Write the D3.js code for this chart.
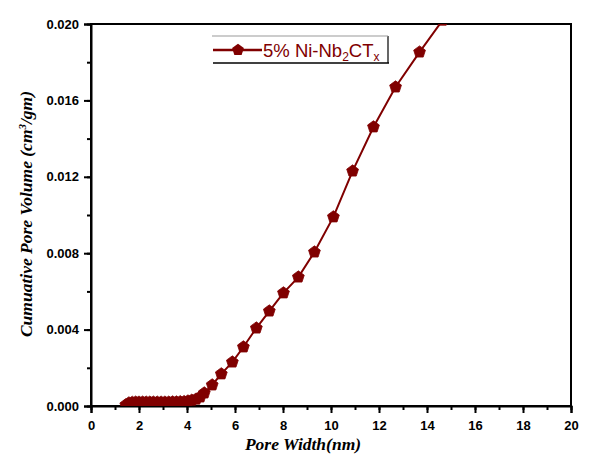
<!DOCTYPE html>
<html>
<head>
<meta charset="utf-8">
<script src="https://cdn.jsdelivr.net/npm/d3@7"></script>
<style>
  body { margin: 0; background: #fff; }
  svg { display: block; }
</style>
</head>
<body>
<svg id="chart" width="605" height="476"></svg>
<script>
// Pore width (nm) and cumulative pore volume (cm3/gm)
const poreWidth = [1.45, 1.58, 1.72, 1.86, 2.0, 2.15, 2.3, 2.45, 2.6, 2.76, 2.92, 3.08, 3.24, 3.4, 3.56, 3.72, 3.88, 4.04, 4.2, 4.38, 4.55, 4.72, 5.05, 5.43, 5.89, 6.35, 6.89, 7.43, 8.02, 8.64, 9.31, 10.1, 10.9, 11.77, 12.69, 13.69, 14.65];
const poreVolume = [0.00006, 0.00016, 0.00019, 0.0002, 0.0002, 0.0002, 0.0002, 0.0002, 0.0002, 0.0002, 0.0002, 0.0002, 0.0002, 0.00021, 0.00021, 0.00022, 0.00023, 0.00026, 0.0003, 0.00036, 0.00047, 0.00068, 0.0011, 0.00168, 0.0023, 0.00309, 0.00408, 0.00497, 0.00592, 0.00675, 0.00806, 0.0099, 0.0123, 0.01461, 0.0167, 0.01853, 0.0202];
const xTicks = [0, 2, 4, 6, 8, 10, 12, 14, 16, 18, 20];
const yTicks = [0, 0.004, 0.008, 0.012, 0.016, 0.02];
const seriesColor = "#800000";

const svg = d3.select("#chart");
const margin = { left: 91, right: 34, top: 24, bottom: 70 };
const width = 605 - margin.left - margin.right;
const height = 476 - margin.top - margin.bottom;

const x = d3.scaleLinear().domain([0, 20]).range([0, width]);
const y = d3.scaleLinear().domain([0, 0.02]).range([height, 0]);

const g = svg.append("g").attr("transform", `translate(${margin.left},${margin.top})`);

g.append("clipPath").attr("id", "clip")
  .append("rect").attr("width", width).attr("height", height);

// frame
g.append("rect")
  .attr("width", width).attr("height", height)
  .attr("fill", "none").attr("stroke", "#000").attr("stroke-width", 2);

// axes with minor ticks
const xMinor = d3.axisBottom(x).ticks(20).tickSize(4).tickFormat("");
const yMinor = d3.axisLeft(y).ticks(10).tickSize(4).tickFormat("");
g.append("g").attr("transform", `translate(0,${height})`).call(xMinor)
  .call(a => a.select(".domain").remove())
  .selectAll("line").attr("stroke-width", 2);
g.append("g").call(yMinor)
  .call(a => a.select(".domain").remove())
  .selectAll("line").attr("stroke-width", 2);

const xAxis = g.append("g").attr("transform", `translate(0,${height})`)
  .call(d3.axisBottom(x).tickValues(xTicks).tickSize(7).tickPadding(8).tickFormat(d3.format("d")));
const yAxis = g.append("g")
  .call(d3.axisLeft(y).tickValues(yTicks).tickSize(7).tickPadding(5).tickFormat(d3.format(".3f")));
[xAxis, yAxis].forEach(a => {
  a.select(".domain").attr("stroke-width", 2);
  a.selectAll("line").attr("stroke-width", 2);
  a.selectAll("text")
    .attr("font-family", "Liberation Sans, Arial, sans-serif")
    .attr("font-weight", "bold").attr("font-size", 13).attr("fill", "#000");
});

// series
const pts = poreWidth.map((d, i) => [d, poreVolume[i]]);
const plot = g.append("g").attr("clip-path", "url(#clip)");
plot.append("path")
  .datum(pts)
  .attr("fill", "none").attr("stroke", seriesColor).attr("stroke-width", 2)
  .attr("d", d3.line().x(d => x(d[0])).y(d => y(d[1])));

function pentagonPath(r) {
  const p = [];
  for (let k = 0; k < 5; k++) {
    const a = -Math.PI / 2 + k * 2 * Math.PI / 5;
    p.push([r * Math.cos(a), r * Math.sin(a)]);
  }
  return "M" + p.map(q => q.join(",")).join("L") + "Z";
}
plot.selectAll(".pt").data(pts).join("path")
  .attr("class", "pt")
  .attr("transform", d => `translate(${x(d[0])},${y(d[1])})`)
  .attr("d", pentagonPath(6.2))
  .attr("fill", seriesColor).attr("stroke", seriesColor).attr("stroke-width", 0.8);

// legend
const lg = svg.append("g");
lg.append("line").attr("x1", 213).attr("x2", 389).attr("y1", 63).attr("y2", 63)
  .attr("stroke", "#000").attr("stroke-width", 1.6);
lg.append("line").attr("x1", 388).attr("x2", 388).attr("y1", 36).attr("y2", 63)
  .attr("stroke", "#000").attr("stroke-width", 1.2);
lg.append("line").attr("x1", 212).attr("x2", 388).attr("y1", 36).attr("y2", 36)
  .attr("stroke", "#999").attr("stroke-width", 1);
lg.append("line").attr("x1", 213).attr("x2", 262).attr("y1", 50).attr("y2", 50)
  .attr("stroke", seriesColor).attr("stroke-width", 2.5);
lg.append("path").attr("transform", "translate(238,50)").attr("d", pentagonPath(6.2))
  .attr("fill", seriesColor);
const lt = lg.append("text").attr("x", 263).attr("y", 57)
  .attr("font-family", "Liberation Sans, Arial, sans-serif").attr("font-size", 18.5)
  .attr("fill", seriesColor);
lt.append("tspan").text("5% Ni-Nb");
lt.append("tspan").attr("font-size", 12).attr("dy", 4).text("2");
lt.append("tspan").attr("dy", -4).text("CT");
lt.append("tspan").attr("font-size", 12).attr("dy", 4).text("x");

// axis titles
svg.append("text")
  .attr("x", 303).attr("y", 450).attr("text-anchor", "middle")
  .attr("font-family", "Liberation Serif, Times New Roman, serif")
  .attr("font-weight", "bold").attr("font-style", "italic").attr("font-size", 17.5)
  .text("Pore Width(nm)");

const yt = svg.append("text")
  .attr("transform", "translate(32,214) rotate(-90)").attr("text-anchor", "middle")
  .attr("font-family", "Liberation Serif, Times New Roman, serif")
  .attr("font-weight", "bold").attr("font-style", "italic").attr("font-size", 17.5);
yt.append("tspan").text("Cumuative Pore Volume (cm");
yt.append("tspan").attr("font-size", 11).attr("dy", -6).text("3");
yt.append("tspan").attr("dy", 6).text("/gm)");
</script>
</body>
</html>
